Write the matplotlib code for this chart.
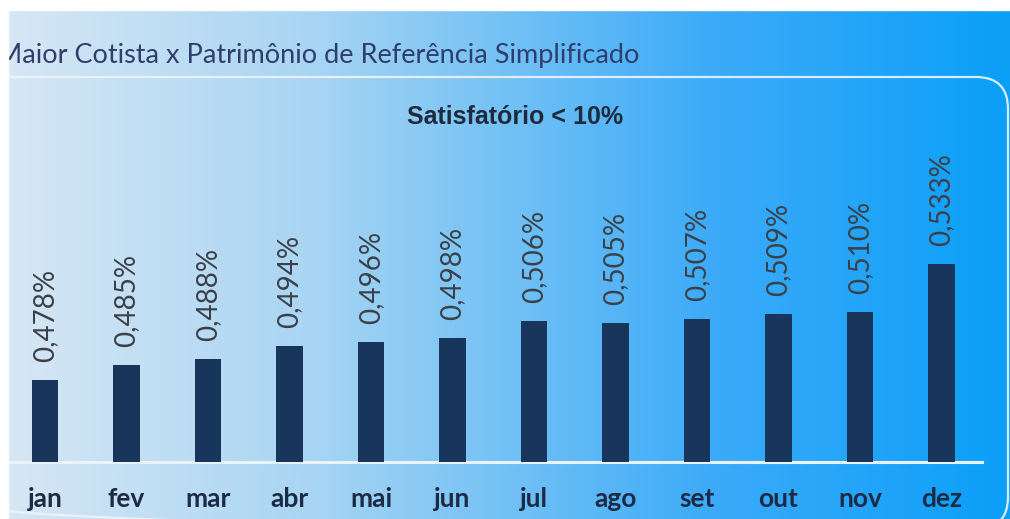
import numpy as np
import matplotlib.pyplot as plt
from matplotlib.colors import LinearSegmentedColormap
from matplotlib.patches import FancyBboxPatch, Rectangle

# data
months = ['jan', 'fev', 'mar', 'abr', 'mai', 'jun', 'jul', 'ago', 'set', 'out', 'nov', 'dez']
values = [0.478, 0.485, 0.488, 0.494, 0.496, 0.498, 0.506, 0.505, 0.507, 0.509, 0.510, 0.533]
title = 'Maior Cotista x Patrimônio de Referência Simplificado'
subtitle = 'Satisfatório < 10%'

W, H = 1010, 519
fig = plt.figure(figsize=(W / 100, H / 100), dpi=100)

# background in pixel coordinates
bg = fig.add_axes([0, 0, 1, 1])
bg.set_xlim(0, W)
bg.set_ylim(H, 0)
bg.axis('off')

grad = LinearSegmentedColormap.from_list(
    'bg', [(0.0, '#d6e7f5'), (0.3, '#a9d5f3'), (0.5, '#72c1f5'),
           (0.7, '#3dabf8'), (1.0, '#0b9ff8')])
bg.imshow(np.linspace(0, 1, 256)[None, :], cmap=grad, aspect='auto',
          extent=(8, W, H, 10), zorder=0)
bg.add_patch(FancyBboxPatch((-60, 77), 1068, 452,
                            boxstyle='round,pad=0,rounding_size=32',
                            fill=False, ec='#eef4fa', lw=1.6, alpha=0.9, zorder=1))
bg.plot([8, 982], [462, 462], color='#eaf2fa', lw=2.2, zorder=1)
bg.text(-3, 56, title, fontsize=19.5, family='Lato', color='#2f3e6b',
        va='center', ha='left', zorder=2)
bg.add_patch(Rectangle((0, 0), 8, H, color='white', zorder=3))
bg.add_patch(Rectangle((0, 0), W, 10, color='white', zorder=3))
bg.text(515, 117, subtitle, fontsize=18, family='Liberation Sans', weight='bold',
        color='#1f2b3c', ha='center', va='center', zorder=2)

# bar chart
x = np.arange(len(months))
ax = fig.add_axes([8 / W, (H - 462) / H, 974 / W, 322 / H])
ax.patch.set_alpha(0)
ax.bar(x, values, width=0.32, color='#18355b', zorder=2)
ax.set_xlim(-37 / 81.5, 937 / 81.5)
ax.set_ylim(0.439, 0.439 + 322 / 2109)
for s in ax.spines.values():
    s.set_visible(False)
ax.set_yticks([])
ax.set_xticks(x)
ax.set_xticklabels(months, fontsize=19, family='Lato', weight='bold', color='#1c2a44')
ax.tick_params(axis='x', length=0, pad=18)

for xi, v in zip(x, values):
    ax.annotate(f'{v:.3f}%'.replace('.', ','), (xi, v), xytext=(0, 13),
                textcoords='offset points', rotation=90, ha='center', va='bottom',
                fontsize=20, family='Lato', color='#3b4048')

fig.savefig('out.png', dpi=100)
